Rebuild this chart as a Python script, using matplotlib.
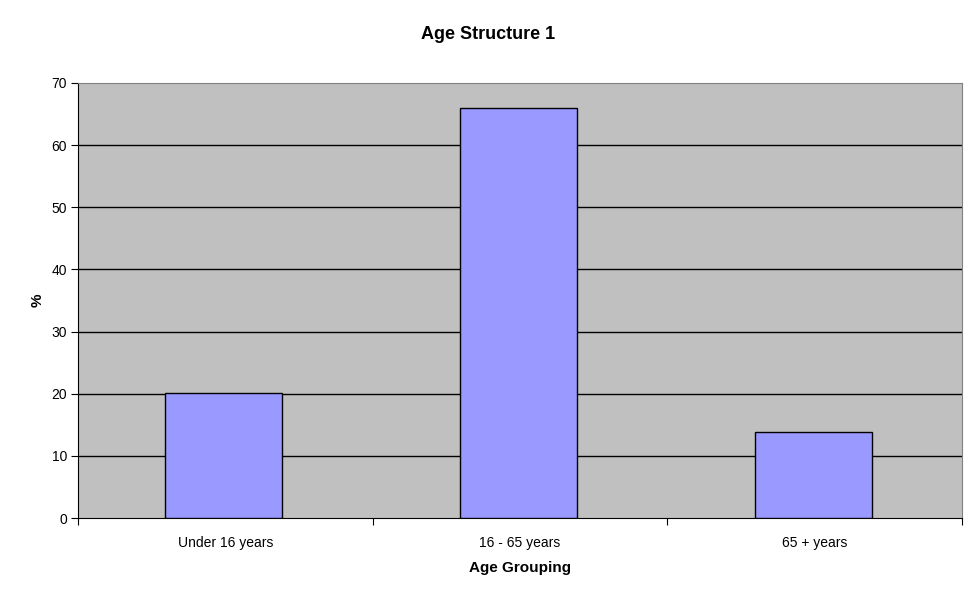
import numpy as np
import matplotlib
matplotlib.use('Agg')
from matplotlib import pyplot as plt

# datos
categorias = ['Under 16 years', '16 - 65 years', '65 + years']
porcentajes = [20.1, 66.0, 13.9]
ticks_y = [0, 10, 20, 30, 40, 50, 60, 70]

plt.rcParams['font.family'] = ['Liberation Sans', 'DejaVu Sans']

fig = plt.figure(figsize=(9.77, 6.0), dpi=100)
ax = fig.add_axes([78/977, 82/600, 884/977, 435/600])
ax.set_facecolor('#c0c0c0')

x = np.arange(len(categorias))
ax.bar(x - 0.005, porcentajes, width=0.397, color='#9999ff', edgecolor='black', linewidth=1, zorder=3)

ax.set_xlim(-0.5, len(categorias) - 0.5)
ax.set_ylim(0, 70)
ax.set_yticks(ticks_y)
ax.tick_params(axis='y', direction='out', length=5, labelsize=10, pad=3)
for v in ticks_y[1:-1]:
    ax.axhline(v, color='black', linewidth=1, zorder=1)

# ticks del eje x entre categorias, etiquetas centradas
ax.set_xticks(np.arange(-0.5, len(categorias)), minor=False)
ax.set_xticklabels([])
ax.set_xticks(x, minor=True)
ax.set_xticklabels(categorias, minor=True)
ax.tick_params(axis='x', which='major', direction='out', length=5)
ax.tick_params(axis='x', which='minor', length=0, labelsize=10, pad=13)

ax.spines['top'].set_color('#808080')
ax.spines['right'].set_color('#808080')
ax.spines['left'].set_color('black')
ax.spines['bottom'].set_color('black')

ax.set_xlabel('Age Grouping', fontsize=11, fontweight='bold', labelpad=8)
ax.set_ylabel('%', fontsize=11, fontweight='bold', labelpad=5)
fig.suptitle('Age Structure 1', fontsize=13, fontweight='bold', y=0.957)

fig.savefig('out.png', dpi=100)
